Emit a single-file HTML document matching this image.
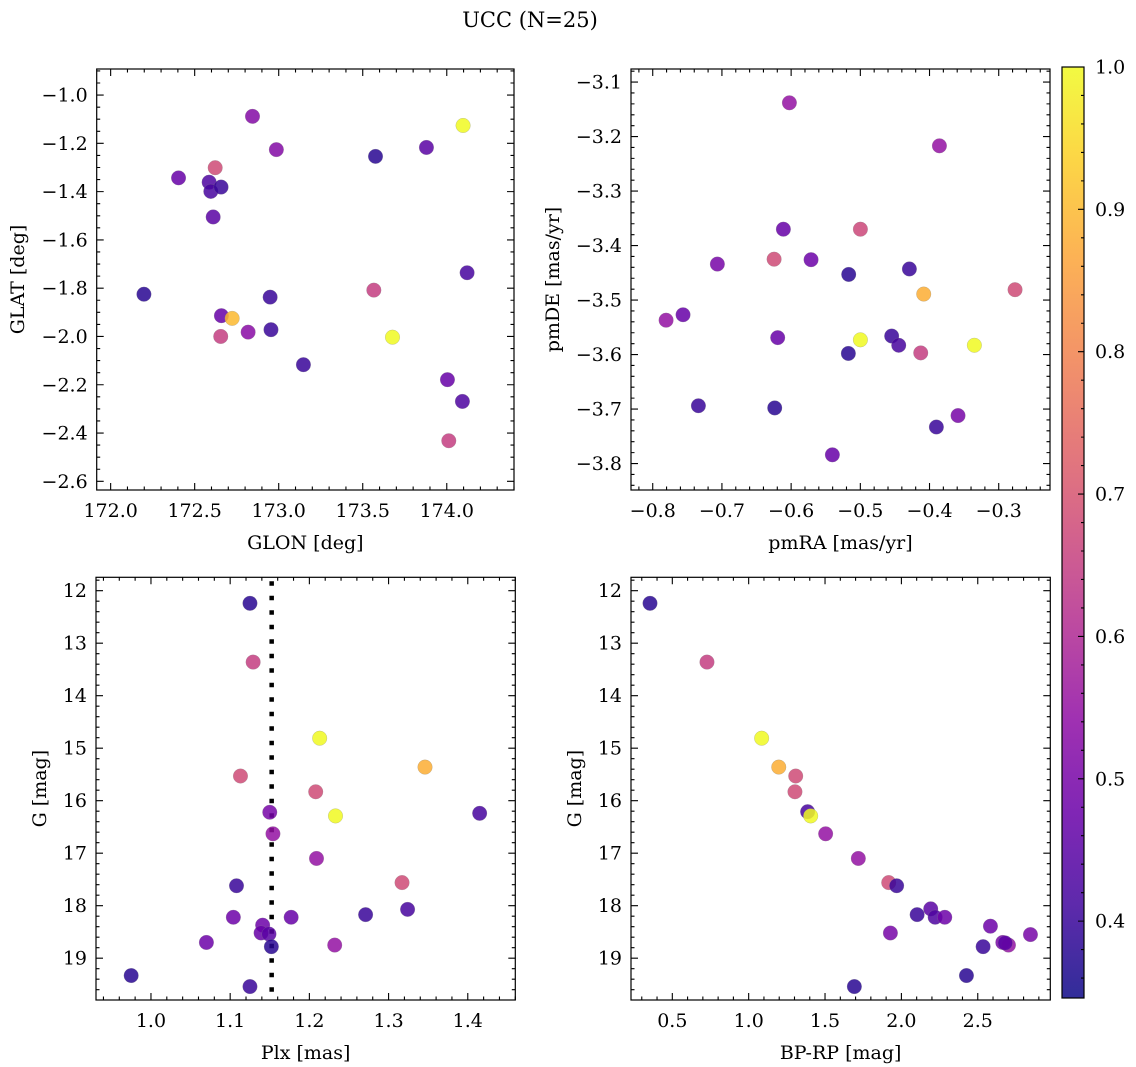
<!DOCTYPE html>
<html><head><meta charset="utf-8">
<style>
html,body{margin:0;padding:0;background:#fff;}
svg{display:block;font-family:"DejaVu Serif","Liberation Serif",serif;}
</style></head>
<body>
<svg id="fig" width="1136" height="1067" viewBox="0 0 1136 1067" xmlns="http://www.w3.org/2000/svg">
<text x="530" y="27" font-size="21" font-family="DejaVu Serif, Liberation Serif, serif" text-anchor="middle">UCC (N=25)</text>
</svg>
<script>
// ---- Panel 1: GLON / GLAT ----
const glon = [172.198,172.404,172.586,172.596,172.657,172.610,172.622,172.844,172.986,172.659,172.723,172.655,172.818,172.949,172.954,173.147,173.576,173.566,173.677,173.879,174.097,174.121,174.004,174.093,174.012];
const glat = [-1.825,-1.343,-1.361,-1.399,-1.381,-1.505,-1.301,-1.088,-1.226,-1.914,-1.925,-2.0,-1.982,-1.837,-1.972,-2.117,-1.254,-1.808,-2.003,-1.217,-1.126,-1.736,-2.179,-2.269,-2.432];
const prob1 = [0.38,0.47,0.43,0.42,0.40,0.45,0.68,0.52,0.52,0.47,0.90,0.65,0.53,0.40,0.40,0.40,0.38,0.65,1.0,0.45,1.0,0.42,0.47,0.43,0.65];
// ---- Panel 2: pmRA / pmDE ----
const pmra = [-0.6025,-0.3857,-0.6112,-0.4999,-0.7066,-0.6246,-0.5712,-0.5168,-0.4291,-0.4084,-0.2764,-0.7807,-0.7562,-0.6194,-0.4999,-0.4547,-0.4445,-0.5173,-0.4127,-0.3352,-0.7340,-0.6237,-0.3901,-0.3588,-0.5404];
const pmde = [-3.138,-3.217,-3.370,-3.370,-3.434,-3.425,-3.426,-3.453,-3.443,-3.489,-3.481,-3.537,-3.527,-3.569,-3.573,-3.566,-3.583,-3.598,-3.597,-3.583,-3.694,-3.698,-3.733,-3.712,-3.784];
const prob2 = [0.55,0.55,0.47,0.67,0.50,0.68,0.48,0.38,0.40,0.88,0.68,0.55,0.47,0.47,1.0,0.40,0.42,0.38,0.65,1.0,0.40,0.38,0.40,0.50,0.47];
// ---- Panel 3: Plx / G ----
const plx = [1.125,1.129,1.213,1.346,1.113,1.208,1.150,1.233,1.415,1.154,1.209,1.317,1.108,1.324,1.271,1.104,1.177,1.141,1.139,1.149,1.152,1.070,1.232,0.975,1.125];
const gmag3 = [12.24,13.36,14.81,15.36,15.53,15.83,16.22,16.29,16.24,16.63,17.10,17.56,17.62,18.07,18.17,18.22,18.22,18.37,18.52,18.54,18.78,18.70,18.75,19.33,19.54];
const prob3 = [0.38,0.65,1.0,0.88,0.68,0.68,0.50,1.0,0.42,0.55,0.55,0.68,0.40,0.42,0.40,0.48,0.47,0.48,0.47,0.45,0.38,0.48,0.55,0.38,0.40];
const plxLine = 1.1524;
// ---- Panel 4: BP-RP / G ----
const bprp = [0.354,0.727,1.085,1.197,1.308,1.303,1.386,1.406,1.504,1.718,1.917,1.969,2.192,2.103,2.221,2.284,2.583,1.928,2.845,2.535,2.664,2.701,2.426,1.692,2.68];
const gmag4 = [12.24,13.36,14.81,15.36,15.53,15.83,16.21,16.29,16.63,17.10,17.56,17.62,18.06,18.17,18.22,18.22,18.39,18.52,18.55,18.78,18.70,18.75,19.33,19.54,18.71];
const prob4 = [0.38,0.65,1.0,0.88,0.68,0.68,0.42,1.0,0.55,0.55,0.68,0.40,0.45,0.40,0.43,0.48,0.48,0.50,0.50,0.40,0.50,0.55,0.38,0.38,0.45];
// ---- colorbar ticks ----
const cbTicks = [0.4,0.5,0.6,0.7,0.8,0.9,1.0];
const cbMin = 0.346, cbMax = 1.0;

const NS = "http://www.w3.org/2000/svg";
const svg = document.getElementById('fig');
const FS = 19;
function mk(tag, attrs, parent){
  const e = document.createElementNS(NS, tag);
  for (const k in attrs) e.setAttribute(k, attrs[k]);
  (parent||svg).appendChild(e);
  return e;
}
const plasma = [[13,8,135],[65,4,157],[106,0,168],[143,13,164],[177,42,144],[204,71,120],[225,100,98],[242,132,75],[252,166,54],[252,206,37],[240,249,33]];
function cmap(v){
  let t = (v-cbMin)/(cbMax-cbMin); t = Math.max(0,Math.min(1,t));
  const f = t*10, i = Math.min(9, Math.floor(f)), r = f-i;
  const a = plasma[i], b = plasma[i+1];
  return 'rgb('+a.map((c,j)=>Math.round(c+(b[j]-c)*r)).join(',')+')';
}
function fmt(v, d){ return (v<0?'\u2212':'') + Math.abs(v).toFixed(d); }

function panel(p){
  const g = mk('g', {});
  
  
  const X = v => p.l + (v-p.x0)/(p.x1-p.x0)*(p.r-p.l);
  const Y = v => p.t + (v-p.y0)/(p.y1-p.y0)*(p.b-p.t);
  const lo = (a,b)=>Math.min(a,b), hi=(a,b)=>Math.max(a,b);
  const xmn = lo(p.x0,p.x1), xmx = hi(p.x0,p.x1), ymn = lo(p.y0,p.y1), ymx = hi(p.y0,p.y1);
  let d = '';
  for (let k=Math.ceil(xmn/p.xmin-1e-6); k*p.xmin<=xmx+1e-9; k++){
    const x = X(k*p.xmin).toFixed(2);
    d += `M${x},${p.b}v-3.5M${x},${p.t}v3.5`;
  }
  for (let k=Math.ceil(ymn/p.ymin-1e-6); k*p.ymin<=ymx+1e-9; k++){
    const y = Y(k*p.ymin).toFixed(2);
    d += `M${p.l},${y}h3.5M${p.r},${y}h-3.5`;
  }
  for (const v of p.xt){ const x=X(v).toFixed(2); d += `M${x},${p.b}v-7M${x},${p.t}v7`; }
  for (const v of p.yt){ const y=Y(v).toFixed(2); d += `M${p.l},${y}h7M${p.r},${y}h-7`; }
  const ticks = mk('path', {d:d, stroke:'#000', 'stroke-width':1.1, fill:'none'}, g);
  
  
  for (const v of p.xt){
    const t = mk('text', {x:X(v), y:p.b+27, 'font-size':FS, 'text-anchor':'middle'}, g);
    t.textContent = fmt(v, p.xd);
    
    
  }
  for (const v of p.yt){
    const t = mk('text', {x:p.l-9, y:Y(v)+6.5, 'font-size':FS, 'text-anchor':'end'}, g);
    t.textContent = fmt(v, p.yd);
    
    
  }
  const xl = mk('text', {x:(p.l+p.r)/2, y:p.b+59, 'font-size':FS, 'text-anchor':'middle'}, g);
  xl.textContent = p.xlabel;
  
  
  const yl = mk('text', {x:0, y:0, 'font-size':FS, 'text-anchor':'middle', transform:`translate(${p.ylx},${(p.t+p.b)/2}) rotate(-90)`}, g);
  yl.textContent = p.ylabel;
  
  
  if (p.vline !== undefined){
    const ln = mk('line', {x1:X(p.vline), x2:X(p.vline), y1:p.t+4, y2:p.b, stroke:'#000', 'stroke-width':4.5, 'stroke-dasharray':'4.5 10'}, g);
    
    
  }
  for (let i=0;i<p.xs.length;i++){
    const c = mk('circle', {cx:X(p.xs[i]), cy:Y(p.ys[i]), r:7.3, fill:cmap(p.cs[i]), 'fill-opacity':0.85, stroke:'#888', 'stroke-width':0.4, 'stroke-opacity':0.6}, g);
    
    
  }
  const fr = mk('rect', {x:p.l, y:p.t, width:p.r-p.l, height:p.b-p.t, fill:'none', stroke:'#000', 'stroke-width':1.2}, g);
  
  
}

panel({name:'glon-glat-panel', l:96.7, r:514, t:69, b:490, x0:171.917, x1:174.40, y0:-0.892, y1:-2.636,
  xt:[172.0,172.5,173.0,173.5,174.0], xd:1, yt:[-1.0,-1.2,-1.4,-1.6,-1.8,-2.0,-2.2,-2.4,-2.6], yd:1,
  xmin:0.1, ymin:0.05, xlabel:'GLON [deg]', ylabel:'GLAT [deg]', ylx:24, xs:glon, ys:glat, cs:prob1});
panel({name:'pm-panel', l:631, r:1050, t:69, b:490, x0:-0.8314, x1:-0.2259, y0:-3.076, y1:-3.8486,
  xt:[-0.8,-0.7,-0.6,-0.5,-0.4,-0.3], xd:1, yt:[-3.1,-3.2,-3.3,-3.4,-3.5,-3.6,-3.7,-3.8], yd:1,
  xmin:0.02, ymin:0.02, xlabel:'pmRA [mas/yr]', ylabel:'pmDE [mas/yr]', ylx:559, xs:pmra, ys:pmde, cs:prob2});
panel({name:'plx-g-panel', l:96, r:515.3, t:577.3, b:1000, x0:0.9306, x1:1.46, y0:11.745, y1:19.796,
  xt:[1.0,1.1,1.2,1.3,1.4], xd:1, yt:[12,13,14,15,16,17,18,19], yd:0,
  xmin:0.02, ymin:0.2, xlabel:'Plx [mas]', ylabel:'G [mag]', ylx:46, xs:plx, ys:gmag3, cs:prob3, vline:plxLine});
panel({name:'cmd-panel', l:631, r:1050.3, t:577.3, b:1000, x0:0.2295, x1:2.975, y0:11.745, y1:19.796,
  xt:[0.5,1.0,1.5,2.0,2.5], xd:1, yt:[12,13,14,15,16,17,18,19], yd:0,
  xmin:0.1, ymin:0.2, xlabel:'BP-RP [mag]', ylabel:'G [mag]', ylx:581, xs:bprp, ys:gmag4, cs:prob4});

// ---- colorbar ----
(function(){
  const l=1062, r=1084, t=67, b=998;
  const Y = v => b - (v-cbMin)/(cbMax-cbMin)*(b-t);
  const defs = mk('defs', {});
  const lg = mk('linearGradient', {id:'cbg', x1:0, y1:1, x2:0, y2:0}, defs);
  for (let i=0;i<=20;i++){
    const v = cbMin + (cbMax-cbMin)*i/20;
    mk('stop', {offset:(i/20), 'stop-color':cmap(v), 'stop-opacity':0.85}, lg);
  }
  const cb = mk('rect', {x:l, y:t, width:r-l, height:b-t, fill:'url(#cbg)', stroke:'#000', 'stroke-width':1.2});
  
  
  let d='';
  for (let k=Math.ceil(cbMin/0.02); k*0.02<=cbMax+1e-9; k++){ const y=Y(k*0.02).toFixed(2); d+=`M${r},${y}h-3`; }
  for (const v of cbTicks){ const y=Y(v).toFixed(2); d+=`M${r},${y}h-6`; }
  const tk = mk('path', {d:d, stroke:'#000', 'stroke-width':1.1});
  
  
  for (const v of cbTicks){
    const t2 = mk('text', {x:r+11, y:Y(v)+6.5, 'font-size':FS});
    t2.textContent = v.toFixed(1);
    
    
  }
})();
</script>
</body></html>
